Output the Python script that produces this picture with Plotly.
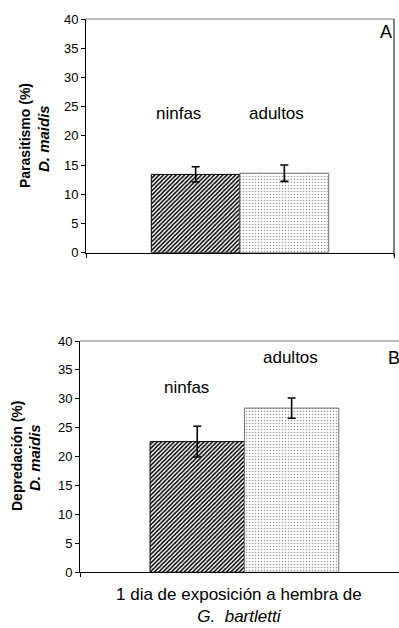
import plotly.graph_objects as go

W, H = 399, 628
FONT = "Arial, Liberation Sans, sans-serif"

category = ["1 dia"]
groups = ["ninfas", "adultos"]
parasitismo = [13.4, 13.6]
parasitismo_err = [1.3, 1.4]
depredacion = [22.6, 28.4]
depredacion_err = [2.65, 1.75]
y_ticks = [0, 5, 10, 15, 20, 25, 30, 35, 40]

# label positions (data coords) for group names
lab_A = {"ninfas": (-0.2, 23.9), "adultos": (0.118, 23.9)}
lab_B = {"ninfas": (-0.175, 31.9), "adultos": (0.141, 37.1)}

def px(x):
    return x / W

def py(y):
    return 1 - y / H

patterns = {
    "ninfas": dict(shape="/", fgcolor="black", bgcolor="white", size=3, solidity=0.5),
    "adultos": dict(shape=".", fgcolor="#9c9c9c", bgcolor="white", size=3, solidity=0.22),
}
outlines = {"ninfas": "black", "adultos": "#707070"}

fig = go.Figure()
for panel, (vals, errs, xa, ya, w) in {
    "A": (parasitismo, parasitismo_err, "x", "y", 0.288),
    "B": (depredacion, depredacion_err, "x2", "y2", 0.287),
}.items():
    for i, g in enumerate(groups):
        fig.add_trace(go.Bar(
            x=category, y=[vals[i]], xaxis=xa, yaxis=ya,
            width=w, offset=-w if i == 0 else 0,
            marker=dict(color="white", pattern=patterns[g],
                        line=dict(color=outlines[g], width=1)),
            error_y=dict(type="data", array=[errs[i]], color="black",
                         thickness=1.6, width=4),
            showlegend=False, hoverinfo="skip",
        ))

axis_common = dict(showgrid=False, zeroline=False, showline=True, linecolor="black",
                   linewidth=1, ticks="outside", tickcolor="black", ticklen=4,
                   automargin=False, fixedrange=True,
                   tickfont=dict(family=FONT, size=13, color="black"))

fig.update_layout(
    template="none",
    width=W, height=H, margin=dict(l=0, r=0, t=0, b=0, pad=0, autoexpand=False),
    paper_bgcolor="white", plot_bgcolor="white",
    xaxis=dict(domain=[px(86), px(394)], range=[-0.5, 0.5], anchor="y",
               showticklabels=False, tickson="boundaries", **axis_common),
    yaxis=dict(domain=[py(252.7), py(19)], range=[0, 40], anchor="x",
               tickvals=y_ticks, **axis_common),
    xaxis2=dict(domain=[px(80), 1.0], range=[-0.5, 0.47], anchor="y2",
                showticklabels=False, tickson="boundaries", **axis_common),
    yaxis2=dict(domain=[py(572.3), py(341)], range=[0, 40], anchor="x2",
                tickvals=y_ticks, **axis_common),
)

shapes = [
    dict(type="line", xref="x domain", yref="y domain", x0=0, x1=1, y0=1, y1=1,
         line=dict(color="#808080", width=1)),
    dict(type="line", xref="x domain", yref="y domain", x0=1, x1=1, y0=-0.015, y1=1,
         line=dict(color="black", width=1)),
    dict(type="line", xref="x2 domain", yref="y2 domain", x0=0, x1=1, y0=1, y1=1,
         line=dict(color="#808080", width=1)),
]
fig.update_layout(shapes=shapes)

def note(x, y, text, size, xref="paper", yref="paper", angle=0, xanchor="center"):
    return dict(x=x, y=y, xref=xref, yref=yref, text=text, showarrow=False,
                textangle=angle, xanchor=xanchor, yanchor="middle",
                font=dict(family=FONT, size=size, color="black"))

ann = []
for g, (x, y) in lab_A.items():
    ann.append(note(x, y, g, 17, "x", "y"))
for g, (x, y) in lab_B.items():
    ann.append(note(x, y, g, 17, "x2", "y2"))
ann.append(note(px(385.5), py(32), "A", 18))
ann.append(note(px(386), py(358), "B", 18, xanchor="left"))
# y titles
ann.append(note(px(25), py(136), "<b>Parasitismo (%)</b>", 14, angle=-90))
ann.append(note(px(43), py(139), "<b><i>D. maidis</i></b>", 15, angle=-90))
ann.append(note(px(17), py(456), "<b>Depredación (%)</b>", 14, angle=-90))
ann.append(note(px(35), py(458), "<b><i>D. maidis</i></b>", 15, angle=-90))
# x title
ann.append(note(px(239), py(605),
                "1 dia de exposición a hembra de<br><i>G.  bartletti</i>", 17))
fig.update_layout(annotations=ann)

fig.write_html(
    "out.html",
    config={"displayModeBar": False, "staticPlot": True},
    post_script="document.body.style.margin='0';document.body.style.padding='0';"
                "document.body.style.overflow='hidden';",
)
